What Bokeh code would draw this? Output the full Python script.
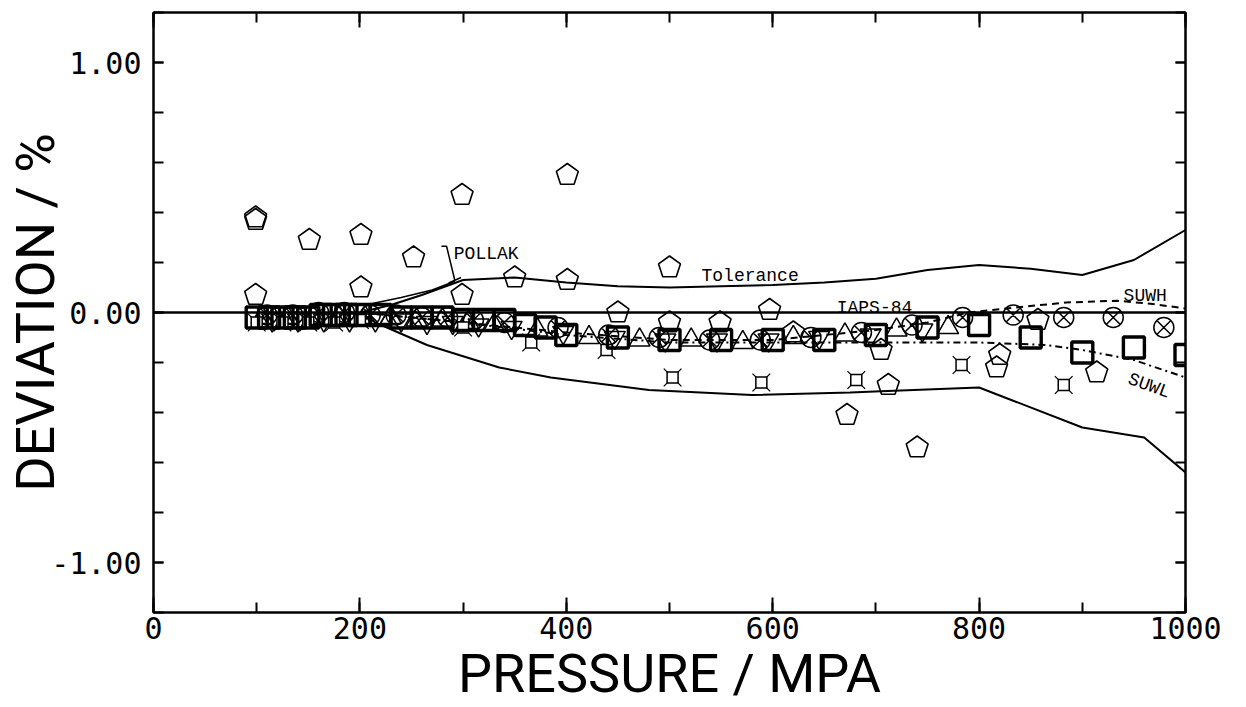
import numpy as np
from bokeh.plotting import figure, ColumnDataSource
from bokeh.models import Range1d, FixedTicker, LinearAxis, PrintfTickFormatter, Label, Ngon
from bokeh.embed import file_html
from bokeh.resources import INLINE

# ---------------- data ----------------
# open pentagons
pent_p = [99, 99, 99, 151, 201, 201, 252, 299, 299, 350, 401, 401, 450, 500, 500,
          549, 597, 620, 672, 705, 712, 740, 817, 820, 857, 914]
pent_d = [0.38, 0.37, 0.07, 0.29, 0.31, 0.10, 0.22, 0.47, 0.07, 0.14, 0.55, 0.13, 0.00, 0.18, -0.04,
          -0.04, 0.01, -0.08, -0.41, -0.15, -0.29, -0.54, -0.22, -0.17, -0.03, -0.24]

# bold open squares
sq_p = [100, 112, 125, 137, 150, 162, 175, 187, 200, 220, 240, 260, 280, 300, 320, 340, 360, 380,
        400, 450, 500, 550, 600, 650, 700, 750, 800, 850, 900, 950, 1000]
sq_d = [-0.02, -0.02, -0.02, -0.02, -0.02, -0.01, -0.01, -0.01, -0.01, -0.01, -0.02, -0.02, -0.02,
        -0.03, -0.03, -0.03, -0.05, -0.06, -0.09, -0.10, -0.11, -0.11, -0.11, -0.11, -0.09, -0.06,
        -0.05, -0.10, -0.16, -0.14, -0.17]

# circles with x
cx_p = [110, 135, 160, 185, 210, 235, 260, 285, 310, 340, 392, 441, 490, 539, 588, 637, 686,
        735, 784, 833, 882, 930, 979]
cx_d = [-0.01, -0.01, 0.00, 0.00, -0.01, -0.01, -0.02, -0.02, -0.03, -0.04, -0.06, -0.09, -0.10,
        -0.11, -0.11, -0.10, -0.08, -0.05, -0.02, -0.01, -0.02, -0.02, -0.06]

# triangles (up)
tu_p = [105, 130, 155, 180, 205, 230, 255, 280, 305, 330, 372, 422, 471, 521, 571, 620, 670, 720, 770]
tu_d = [-0.02, -0.02, -0.02, -0.02, -0.02, -0.02, -0.03, -0.03, -0.04, -0.05, -0.07, -0.10, -0.11,
        -0.11, -0.12, -0.10, -0.09, -0.07, -0.06]

# triangles (down)
td_p = [115, 140, 165, 190, 215, 240, 265, 290, 315, 347, 397, 447, 496, 546, 596, 645, 695, 745]
td_d = [-0.03, -0.03, -0.03, -0.03, -0.03, -0.03, -0.04, -0.04, -0.05, -0.06, -0.08, -0.10, -0.11,
        -0.11, -0.11, -0.10, -0.09, -0.07]

# small squares with spikes
ss_p = [100, 125, 150, 175, 200, 300, 366, 439, 503, 589, 681, 783, 882]
ss_d = [-0.04, -0.04, -0.04, -0.04, -0.03, -0.06, -0.12, -0.15, -0.26, -0.28, -0.27, -0.21, -0.29]

# curves
iaps_p = [0, 1000]
iaps_d = [0.0, 0.0]

tol_up_p = [200, 230, 260, 290, 300, 350, 400, 450, 500, 550, 600, 650, 700, 750, 800, 850, 900, 950, 1000]
tol_up_d = [0.00, 0.03, 0.07, 0.115, 0.13, 0.14, 0.12, 0.105, 0.10, 0.105, 0.11, 0.12, 0.135, 0.17,
            0.19, 0.175, 0.15, 0.21, 0.33]
tol_lo_p = [200, 215, 265, 335, 385, 480, 580, 675, 705, 800, 900, 960, 1000]
tol_lo_d = [0.00, -0.04, -0.13, -0.22, -0.26, -0.31, -0.33, -0.32, -0.315, -0.30, -0.46, -0.50, -0.64]

pollak_p = [205, 240, 270, 292]
pollak_d = [0.03, 0.06, 0.09, 0.125]

suwh_p = [200, 300, 400, 500, 600, 700, 750, 790, 836, 884, 934, 966, 1000]
suwh_d = [0.00, -0.04, -0.08, -0.11, -0.11, -0.07, -0.04, 0.00, 0.02, 0.04, 0.047, 0.035, 0.016]
suwl_p = [200, 300, 400, 500, 600, 700, 800, 865, 900, 950, 1000]
suwl_d = [0.00, -0.04, -0.09, -0.12, -0.12, -0.12, -0.12, -0.13, -0.15, -0.19, -0.26]

x_ticks = [0, 200, 400, 600, 800, 1000]
x_minor = [0, 100, 200, 300, 400, 500, 600, 700, 800, 900, 1000]
y_ticks = [-1.0, 0.0, 1.0]
y_minor = [-1.2, -1.0, -0.8, -0.6, -0.4, -0.2, 0.0, 0.2, 0.4, 0.6, 0.8, 1.0, 1.2]

x_title = "PRESSURE / MPA"
y_title = "DEVIATION / %"

# ---------------- figure ----------------
p = figure(width=1246, height=707, x_range=Range1d(0, 1000), y_range=Range1d(-1.2, 1.2),
           output_backend="svg", toolbar_location=None,
           min_border_left=153, min_border_right=61, min_border_top=12, min_border_bottom=87)
p.xgrid.visible = False
p.ygrid.visible = False
p.outline_line_color = "black"
p.outline_line_width = 2


def style_axis(ax, ticks, minor, major_len, minor_len, show_labels):
    ax.ticker = FixedTicker(ticks=ticks, minor_ticks=minor)
    ax.axis_line_color = "black"
    ax.axis_line_width = 2
    ax.major_tick_in = major_len
    ax.major_tick_out = 0
    ax.minor_tick_in = minor_len
    ax.minor_tick_out = 0
    ax.major_tick_line_width = 2
    ax.minor_tick_line_width = 2
    if show_labels:
        ax.major_label_text_font = "DejaVu Sans Mono"
        ax.major_label_text_font_size = "30px"
        ax.major_label_text_color = "black"
    else:
        ax.major_label_overrides = {t: "" for t in ticks}
        ax.major_label_text_font_size = "8px"
        ax.major_label_standoff = 0


style_axis(p.xaxis[0], x_ticks, x_minor, 15, 10, True)
p.xaxis[0].major_label_standoff = 4
style_axis(p.yaxis[0], y_ticks, y_minor, 10, 10, True)
p.yaxis[0].formatter = PrintfTickFormatter(format="%.2f")
p.yaxis[0].major_label_standoff = 12

for ax, txt in ((p.xaxis[0], x_title), (p.yaxis[0], y_title)):
    ax.axis_label = txt
    ax.axis_label_text_font = "Roboto"
    ax.axis_label_text_font_size = "54px"
    ax.axis_label_text_font_style = "normal"
    ax.axis_label_text_color = "black"
p.xaxis[0].axis_label_standoff = 0
p.yaxis[0].axis_label_standoff = -19

top = LinearAxis()
style_axis(top, x_ticks, x_minor, 15, 10, False)
p.add_layout(top, "above")
right = LinearAxis()
style_axis(right, y_ticks, y_minor, 10, 10, False)
p.add_layout(right, "right")

# ---------------- curves ----------------
p.line(iaps_p, iaps_d, line_color="black", line_width=2.5)
p.line(tol_up_p, tol_up_d, line_color="black", line_width=2)
p.line(tol_lo_p, tol_lo_d, line_color="black", line_width=2)
p.line(pollak_p, pollak_d, line_color="black", line_width=1.5)
p.line(suwh_p, suwh_d, line_color="black", line_width=2, line_dash="7 5")
p.line(suwl_p, suwl_d, line_color="black", line_width=2, line_dash="7 4 2 4")

# ---------------- markers ----------------
pent_src = ColumnDataSource(dict(x=pent_p, y=pent_d))
p.add_glyph(pent_src, Ngon(x="x", y="y", radius=11.5, radius_units="screen", n=5, angle=0,
                           fill_color=None, line_color="black", line_width=1.6))

p.scatter(tu_p, tu_d, marker="triangle", size=21, fill_color=None, line_color="black", line_width=1.5)
p.scatter(td_p, td_d, marker="inverted_triangle", size=21, fill_color=None, line_color="black", line_width=1.5)
p.scatter(cx_p, cx_d, marker="circle_x", size=20, fill_color=None, line_color="black", line_width=1.5)
p.scatter(ss_p, ss_d, marker="x", size=25, line_color="black", line_width=1.3)
p.scatter(ss_p, ss_d, marker="square", size=11, fill_color="white", line_color="black", line_width=1.5)
p.scatter(sq_p, sq_d, marker="square", size=21, fill_color=None, line_color="black", line_width=3.4)

# ---------------- annotations ----------------
lab_font = "Liberation Mono"


def add_text(x, y, text, size, font=lab_font, angle=0.0):
    p.add_layout(Label(x=x, y=y, text=text, text_font=font, text_font_size=size,
                       text_color="black", angle=angle, text_align="left",
                       text_baseline="alphabetic"))


add_text(291, 0.233, "POLLAK", "18px")
add_text(531, 0.146, "Tolerance", "18px")
add_text(662, 0.02, "IAPS-84", "18px")
add_text(940, 0.067, "SUWH", "18px")
add_text(945, -0.264, "SUWL", "18px", angle=-0.35)

bracket_p = [279, 284, 292]
bracket_d = [0.265, 0.265, 0.128]
p.line(bracket_p, bracket_d, line_color="black", line_width=1.5)
p.line([286, 298], [0.118, 0.14], line_color="black", line_width=1.5)

open("out.html", "w").write(file_html(p, INLINE))
